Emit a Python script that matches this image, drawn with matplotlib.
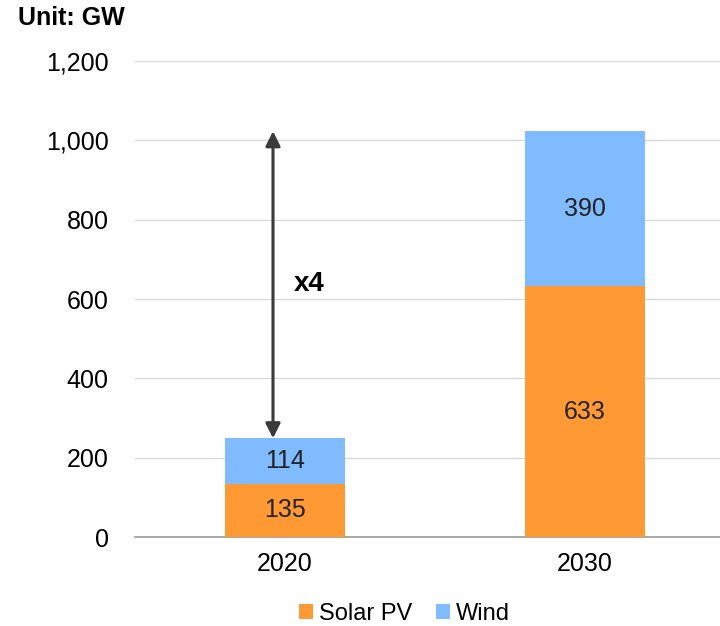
import matplotlib.pyplot as plt
from matplotlib.ticker import FuncFormatter

plt.rcParams['font.family'] = ['Liberation Sans', 'DejaVu Sans']

# Data
years = ['2020', '2030']
solar = [135, 633]
wind = [114, 390]

fig = plt.figure(figsize=(7.2, 6.26), dpi=100)
ax = fig.add_axes([0.1875, 0.142, 0.8125, 0.7606])

x = list(range(len(years)))
ax.bar(x, solar, width=0.4, color='#FF9933', label='Solar PV', zorder=3)
ax.bar(x, wind, width=0.4, bottom=solar, color='#80BAFF', label='Wind', zorder=3)

for i in x:
    ax.text(i, solar[i] / 2, str(solar[i]), ha='center', va='center', fontsize=18, color='#222222', zorder=4)
    ax.text(i, solar[i] + wind[i] / 2, str(wind[i]), ha='center', va='center', fontsize=18, color='#222222', zorder=4)

# Growth arrow
top_total = solar[1] + wind[1]
base_total = solar[0] + wind[0]
ax.annotate('', xy=(-0.04, top_total), xytext=(-0.04, base_total),
            arrowprops=dict(arrowstyle='<|-|>', color='#3a3a3a', lw=2.2, mutation_scale=22,
                            shrinkA=0, shrinkB=0), zorder=5)
ax.text(0.03, 637, 'x4', fontsize=20, fontweight='bold', ha='left', va='center')

ax.set_xlim(-0.5, 1.45)
ax.set_ylim(0, 1200)
ax.set_yticks(range(0, 1201, 200))
ax.yaxis.set_major_formatter(FuncFormatter(lambda v, p: f'{int(v):,}'))
ax.set_xticks(x)
ax.set_xticklabels(years)
ax.tick_params(axis='both', length=0, labelsize=18)
ax.tick_params(axis='y', pad=19)
ax.tick_params(axis='x', pad=11)
ax.yaxis.grid(True, color='#D9D9D9', lw=1, zorder=0)
for s in ['top', 'right', 'left']:
    ax.spines[s].set_visible(False)
ax.spines['bottom'].set_color('#999999')
ax.spines['bottom'].set_linewidth(1.2)

fig.text(0.025, 0.971, 'Unit: GW', fontsize=18, fontweight='bold', ha='left', va='center')

fig.legend(loc='center', bbox_to_anchor=(0.562, 0.019), ncol=2, frameon=False, fontsize=17,
           handlelength=0.6, handleheight=0.6, handletextpad=0.25, columnspacing=1.0)

fig.savefig('out.png', dpi=100)
